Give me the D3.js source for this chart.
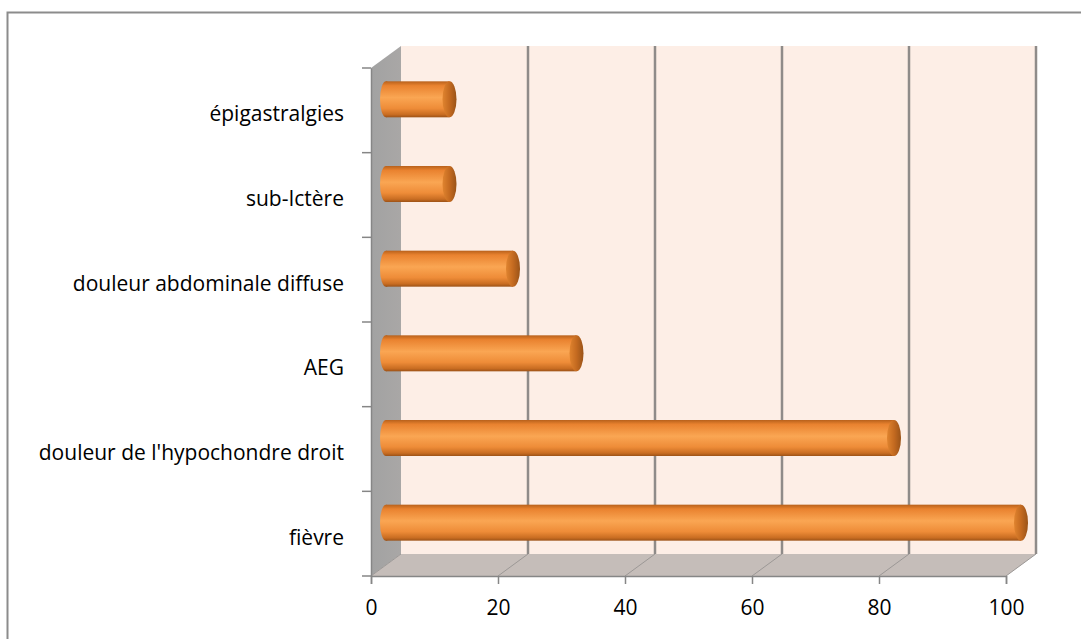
<!DOCTYPE html>
<html>
<head>
<meta charset="utf-8">
<script src="https://cdn.jsdelivr.net/npm/d3@7"></script>
<style>
  body { margin: 0; background: #fff; }
  svg { display: block; }
</style>
</head>
<body>
<div id="chart"></div>
<script>
// data, bottom to top
const categories = ["fièvre", "douleur de l'hypochondre droit", "AEG", "douleur abdominale diffuse", "sub-Ictère", "épigastralgies"];
const values = [100, 80, 30, 20, 10, 10];
const xTicks = [0, 20, 40, 60, 80, 100];

const width = 1081;
const height = 639;
const depthX = 30;
const depthY = -22;

const plotLeft = 371, plotRight = 1006, plotTop = 68, plotBottom = 576;

const svg = d3.select('#chart')
  .append('svg')
  .attr('width', width)
  .attr('height', height);

const defs = svg.append('defs');

const bodyGrad = defs.append('linearGradient')
  .attr('id', 'barBody')
  .attr('x1', 0).attr('y1', 0).attr('x2', 0).attr('y2', 1);
[[0, '#b8611b'], [0.12, '#e9822f'], [0.45, '#faa653'], [0.75, '#ee8c38'], [0.92, '#c96d22'], [1, '#9c5217']]
  .forEach(s => bodyGrad.append('stop').attr('offset', s[0]).attr('stop-color', s[1]));

const capGrad = defs.append('linearGradient')
  .attr('id', 'barCap')
  .attr('x1', 0).attr('y1', 0).attr('x2', 1).attr('y2', 0);
[[0, '#e0842f'], [0.5, '#c46a20'], [1, '#9a5318']]
  .forEach(s => capGrad.append('stop').attr('offset', s[0]).attr('stop-color', s[1]));

const wallGrad = defs.append('linearGradient')
  .attr('id', 'sideWall')
  .attr('x1', 0).attr('y1', 0).attr('x2', 1).attr('y2', 0);
[[0, '#a2a2a2'], [1, '#a9a7a6']]
  .forEach(s => wallGrad.append('stop').attr('offset', s[0]).attr('stop-color', s[1]));

// outer frame
svg.append('rect')
  .attr('x', 7.5).attr('y', 12.5)
  .attr('width', 1100).attr('height', 700)
  .attr('fill', 'none')
  .attr('stroke', '#8c8c8c')
  .attr('stroke-width', 2);

const x = d3.scaleLinear().domain([0, 100]).range([plotLeft, plotRight]);
const y = d3.scaleBand().domain(categories).range([plotBottom, plotTop]).paddingInner(0);

// back wall
svg.append('rect')
  .attr('x', x(0) + depthX).attr('y', plotTop + depthY)
  .attr('width', x(100) - x(0)).attr('height', plotBottom - plotTop)
  .attr('fill', '#fdeee6');

// side wall
svg.append('polygon')
  .attr('points', [[x(0), plotTop], [x(0) + depthX, plotTop + depthY], [x(0) + depthX, plotBottom + depthY], [x(0), plotBottom]].join(' '))
  .attr('fill', 'url(#sideWall)');

// floor
svg.append('polygon')
  .attr('points', [[x(0), plotBottom], [x(0) + depthX, plotBottom + depthY], [x(100) + depthX, plotBottom + depthY], [x(100), plotBottom]].join(' '))
  .attr('fill', '#c5bdb9');

// gridlines on back wall
svg.selectAll('.grid')
  .data(xTicks.filter(d => d > 0))
  .enter().append('line')
  .attr('class', 'grid')
  .attr('x1', d => x(d) + depthX).attr('x2', d => x(d) + depthX)
  .attr('y1', plotTop + depthY).attr('y2', plotBottom + depthY)
  .attr('stroke', '#8f8b89')
  .attr('stroke-width', 2.5);

// gridlines on floor
svg.selectAll('.floorGrid')
  .data(xTicks)
  .enter().append('line')
  .attr('class', 'floorGrid')
  .attr('x1', d => x(d)).attr('y1', plotBottom)
  .attr('x2', d => x(d) + depthX).attr('y2', plotBottom + depthY)
  .attr('stroke', '#9c9896')
  .attr('stroke-width', 1);

// axes
const xAxis = svg.append('g')
  .attr('transform', `translate(0,${plotBottom})`)
  .call(d3.axisBottom(x).tickValues(xTicks).tickSize(8).tickPadding(16));
xAxis.select('.domain').attr('stroke', '#868686').attr('stroke-width', 1.5);
xAxis.selectAll('.tick line').attr('stroke', '#868686').attr('stroke-width', 1.5);
xAxis.selectAll('.tick text')
  .attr('font-family', 'Open Sans')
  .attr('font-size', 21)
  .attr('fill', '#000');

const yAxis = svg.append('g')
  .attr('transform', `translate(${plotLeft},0)`)
  .call(d3.axisLeft(y).tickSize(0).tickFormat(''));
yAxis.select('.domain').attr('stroke', '#868686').attr('stroke-width', 1.5);

// category boundary ticks
const boundaries = categories.map(c => y(c)).concat([plotBottom]);
svg.selectAll('.ytick')
  .data(boundaries)
  .enter().append('line')
  .attr('x1', plotLeft - 9).attr('x2', plotLeft)
  .attr('y1', d => d).attr('y2', d => d)
  .attr('stroke', '#868686')
  .attr('stroke-width', 1.5);

// category labels
svg.selectAll('.label')
  .data(categories)
  .enter().append('text')
  .attr('x', 344)
  .attr('y', d => y(d) + y.bandwidth() / 2 + 11)
  .attr('text-anchor', 'end')
  .attr('font-family', 'Open Sans')
  .attr('font-size', 21)
  .attr('fill', '#000')
  .text(d => d);

// cylinder bars at half depth
const bw = 36;
const bars = svg.selectAll('.bar')
  .data(categories.map((c, i) => ({ c, v: values[i] })))
  .enter().append('g')
  .attr('class', 'bar')
  .attr('transform', d => `translate(${depthX / 2},${y(d.c) + y.bandwidth() / 2 + depthY / 2})`);

bars.append('ellipse')
  .attr('cx', x(0)).attr('cy', 0)
  .attr('rx', 6).attr('ry', bw / 2)
  .attr('fill', 'url(#barBody)');

bars.append('rect')
  .attr('x', x(0)).attr('y', -bw / 2)
  .attr('width', d => x(d.v) - x(0))
  .attr('height', bw)
  .attr('fill', 'url(#barBody)');

bars.append('ellipse')
  .attr('cx', d => x(d.v)).attr('cy', 0)
  .attr('rx', 7).attr('ry', bw / 2)
  .attr('fill', 'url(#barCap)');
</script>
</body>
</html>
